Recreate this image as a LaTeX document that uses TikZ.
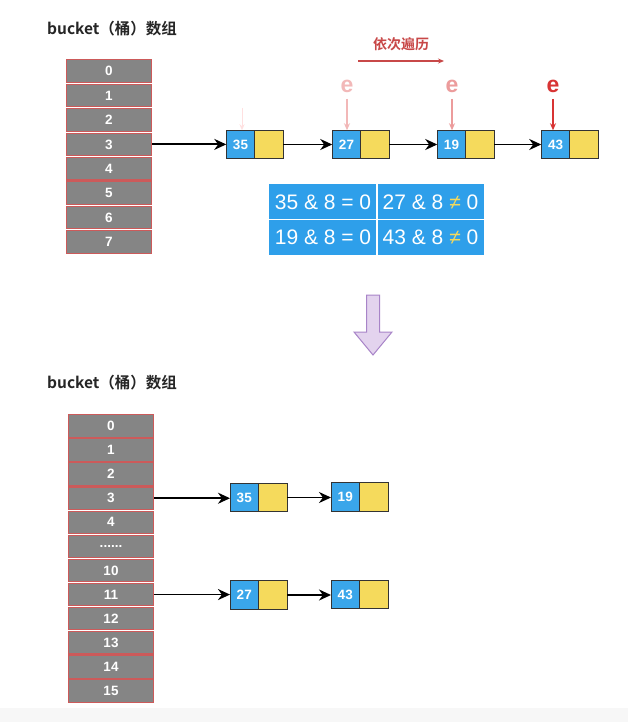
\documentclass[tikz,border=0pt]{standalone}
\usepackage{fontspec}
\setmainfont{Liberation Sans}
\newfontfamily\cjkb[BoldFont={Noto Sans CJK SC Bold}]{Noto Sans CJK SC}
\usetikzlibrary{arrows.meta,positioning}
\newcommand\mysixdots{......}
\definecolor{cellgray}{HTML}{858585}
\definecolor{cellred}{HTML}{CC5A5A}
\definecolor{nodeblue}{HTML}{3AA6EA}
\definecolor{nodeyellow}{HTML}{F5DA5C}
\definecolor{tblue}{HTML}{2E9FEA}
\definecolor{travred}{HTML}{C84848}
\definecolor{epale}{HTML}{F2B8B8}
\definecolor{emid}{HTML}{EC9C9C}
\definecolor{estrong}{HTML}{D83434}
\definecolor{purfill}{HTML}{E3D3EE}
\definecolor{purline}{HTML}{A884C8}
\tikzset{
  cell/.style={draw=cellred, fill=cellgray, line width=1.1pt, minimum width=85pt, minimum height=22.5pt, inner sep=0pt, text=white, font=\fontsize{13.5}{15}\selectfont\bfseries},
  bluebox/.style={draw=black!80, fill=nodeblue, line width=1pt, minimum width=28.5pt, minimum height=28.5pt, inner sep=0pt, outer sep=0pt, text=white, font=\fontsize{13.5}{15}\selectfont\bfseries},
  yellowbox/.style={draw=black!80, fill=nodeyellow, line width=1pt, minimum width=28.5pt, minimum height=28.5pt, inner sep=0pt, outer sep=0pt},
  link/.style={-{Stealth[length=12pt,width=11pt]}, line width=1.8pt, black},
  title/.style={anchor=base west, inner sep=0pt, font=\cjkb\fontsize{15.5}{17}\selectfont\bfseries, text=black!85},
  elabel/.style={font=\fontsize{23}{25}\selectfont\bfseries},
  tbltext/.style={text=white, font=\fontsize{21}{23}\selectfont},
}
\begin{document}
\begin{tikzpicture}[x=1pt,y=-1pt]
\useasboundingbox (0,0) rectangle (628,722);
\fill[white] (0,0) rectangle (628,722);
\fill[black!3] (0,708) rectangle (628,722);

% ---------- top part ----------
\node[title] (t1) at (47,35) {bucket（桶）数组};
\foreach \i in {0,1,2,3,4,5,6,7} {
  \node[cell] (u\i) at (109,71.2+24.4*\i) {\i};
}

\node[bluebox] (a35) at (240.5,144.5) {35};
\node[yellowbox, right=0pt of a35] (a35y) {};
\node[bluebox] (a27) at (346.5,144.5) {27};
\node[yellowbox, right=0pt of a27] (a27y) {};
\node[bluebox] (a19) at (451.5,144.5) {19};
\node[yellowbox, right=0pt of a19] (a19y) {};
\node[bluebox] (a43) at (555.5,144.5) {43};
\node[yellowbox, right=0pt of a43] (a43y) {};

\draw[link] (u3.east) -- (u3.east -| a35.west);
\draw[link] (a35y.east) -- (a27.west);
\draw[link] (a27y.east) -- (a19.west);
\draw[link] (a19y.east) -- (a43.west);

% pointers e
\coordinate (p35) at (242,108);
\draw[-{Stealth[length=6pt,width=5pt]}, line width=1pt, red!12] (p35) -- (a35.north -| p35);
\node[elabel, text=epale] (e27) at (347,86) {e};
\draw[-{Stealth[length=7pt,width=6pt]}, line width=1.1pt, epale] (e27.south) ++(0,3) -- (a27.north -| e27);
\node[elabel, text=emid] (e19) at (452,86) {e};
\draw[-{Stealth[length=7pt,width=6pt]}, line width=1.1pt, emid] (e19.south) ++(0,3) -- (a19.north -| e19);
\node[elabel, text=estrong] (e43) at (553,86) {e};
\draw[-{Stealth[length=7pt,width=6pt]}, line width=1.4pt, estrong] (e43.south) ++(0,3) -- (a43.north -| e43);

% traversal label
\node[font=\cjkb\fontsize{14}{16}\selectfont\bfseries, text=travred] (trav) at (401,44) {依次遍历};
\coordinate (tr1) at (358,61);
\coordinate (tr2) at (444,61);
\draw[-{Stealth[length=6pt,width=5pt]}, line width=1.1pt, travred] (tr1) -- (tr2);

% table
\fill[tblue] (269,184) rectangle (484,255);
\draw[white, line width=1.3pt] (377,184) -- (377,255);
\draw[white, line width=1.3pt] (269,219.5) -- (484,219.5);
\node[tbltext] (c1) at (323,202) {35 \& 8 = 0};
\node[tbltext] (c2) at (430.5,202) {27 \& 8 {\color{nodeyellow}≠} 0};
\node[tbltext] (c3) at (323,237.5) {19 \& 8 = 0};
\node[tbltext] (c4) at (430.5,237.5) {43 \& 8 {\color{nodeyellow}≠} 0};

% big hollow arrow
\draw[fill=purfill, draw=purline, line width=1pt, line join=miter]
  (366.5,295) -- (379.5,295) -- (379.5,332) -- (392,332) -- (373,355) -- (354,332) -- (366.5,332) -- cycle;

% ---------- bottom part ----------
\node[title] (t2) at (47,388) {bucket（桶）数组};
\foreach \lab [count=\k from 0] in {0,1,2,3,4,\mysixdots,10,11,12,13,14,15} {
  \node[cell] (d\k) at (111,426+24.08*\k) {\lab};
}

\node[bluebox] (b35) at (244.25,497.5) {35};
\node[yellowbox, right=0pt of b35] (b35y) {};
\node[bluebox] (b19) at (345.25,497) {19};
\node[yellowbox, right=0pt of b19] (b19y) {};
\node[bluebox] (b27) at (244.25,595) {27};
\node[yellowbox, right=0pt of b27] (b27y) {};
\node[bluebox] (b43) at (345.25,594.5) {43};
\node[yellowbox, right=0pt of b43] (b43y) {};

\draw[link] (d3.east) -- (d3.east -| b35.west);
\draw[link] (b35y.east) -- (b35y.east -| b19.west);
\draw[link] (d7.east) -- (d7.east -| b27.west);
\draw[link] (b27y.east) -- (b27y.east -| b43.west);
\end{tikzpicture}
\end{document}
